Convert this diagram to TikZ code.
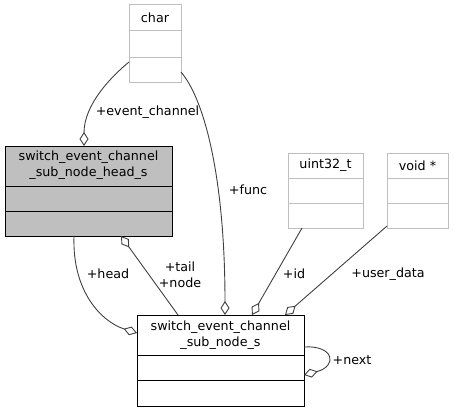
\documentclass[tikz,border=0pt]{standalone}
\usepackage{fontspec}
\setmainfont{DejaVu Sans}
\usetikzlibrary{arrows.meta}
\definecolor{extgray}{HTML}{BFBFBF}
\definecolor{headfill}{HTML}{BFBFBF}
\definecolor{edgecol}{HTML}{404040}
\begin{document}
\begin{tikzpicture}[x=1pt,y=-1pt,
  font=\fontsize{12.7}{15.5}\selectfont,
  box/.style={draw, rectangle, inner sep=0pt, outer sep=0pt, anchor=north west, line width=1pt},
  extbox/.style={box, draw=extgray},
  headbox/.style={box, draw=black, fill=headfill},
  mainbox/.style={box, draw=black, fill=white},
  title/.style={inner sep=0pt, align=center},
  lbl/.style={inner sep=0pt, align=center},
  conn/.style={draw=edgecol, line width=0.9pt, -{Diamond[open,length=14pt,width=9pt]}}
]
\useasboundingbox (0,0) rectangle (454,412);

% char
\node[extbox, minimum width=52pt, minimum height=77pt] (char) at (129,5) {};
\node[title] (charT) at (155,18) {char};
\draw[extgray, line width=1pt] (char.west |- 0,31) -- (char.east |- 0,31);
\draw[extgray, line width=1pt] (char.west |- 0,57) -- (char.east |- 0,57);

% uint32_t
\node[extbox, minimum width=75pt, minimum height=75pt] (uint) at (288,153) {};
\node[title] (uintT) at (325.5,165.5) {uint32\_t};
\draw[extgray, line width=1pt] (uint.west |- 0,178) -- (uint.east |- 0,178);
\draw[extgray, line width=1pt] (uint.west |- 0,203) -- (uint.east |- 0,203);

% void *
\node[extbox, minimum width=61pt, minimum height=75pt] (void) at (387,153) {};
\node[title] (voidT) at (417.5,165.5) {void *};
\draw[extgray, line width=1pt] (void.west |- 0,178) -- (void.east |- 0,178);
\draw[extgray, line width=1pt] (void.west |- 0,203) -- (void.east |- 0,203);

% head
\node[headbox, minimum width=167pt, minimum height=90pt] (head) at (5,146) {};
\node[title] (headT) at (88.5,165) {switch\_event\_channel\\\_sub\_node\_head\_s};
\draw[black, line width=1pt] (head.west |- 0,186) -- (head.east |- 0,186);
\draw[black, line width=1pt] (head.west |- 0,211) -- (head.east |- 0,211);

% node
\node[mainbox, minimum width=167pt, minimum height=91pt] (node) at (137,315) {};
\node[title] (nodeT) at (220.5,335) {switch\_event\_channel\\\_sub\_node\_s};
\draw[black, line width=1pt] (node.west |- 0,355) -- (node.east |- 0,355);
\draw[black, line width=1pt] (node.west |- 0,380) -- (node.east |- 0,380);

% connectors
\draw[conn] ([yshift=20pt]char.south west) .. controls (112,76) and (84,104) .. ([xshift=-4.5pt]head.north);
\node[lbl] (lEC) at (147.5,112) {+event\_channel};

\draw[conn] ([yshift=10pt]char.south east) .. controls (205,100) and (225,180) .. ([xshift=4.5pt]node.north);
\node[lbl] (lFunc) at (248,190) {+func};

\draw[conn] ([xshift=-23.5pt]uint.south) -- ([xshift=31.5pt]node.north);
\node[lbl] (lId) at (294,274) {+id};

\draw[conn] ([yshift=2pt]void.south west) -- ([xshift=64.5pt]node.north);
\node[lbl] (lUD) at (388,274) {+user\_data};

\draw[conn] ([xshift=-14.5pt]head.south) .. controls (72,292) and (102,322) .. ([yshift=27.5pt]node.west);
\node[lbl] (lHead) at (108,274) {+head};

\draw[conn] ([xshift=-42.5pt]node.north) -- ([xshift=32.5pt]head.south);
\node[lbl] (lTail) at (180,275) {+tail\\+node};

\draw[conn] ([yshift=13.5pt]node.east) .. controls (334,345) and (338,366) .. ([yshift=-14.5pt]node.east);
\node[lbl] (lNext) at (352,360) {+next};
\end{tikzpicture}
\end{document}
